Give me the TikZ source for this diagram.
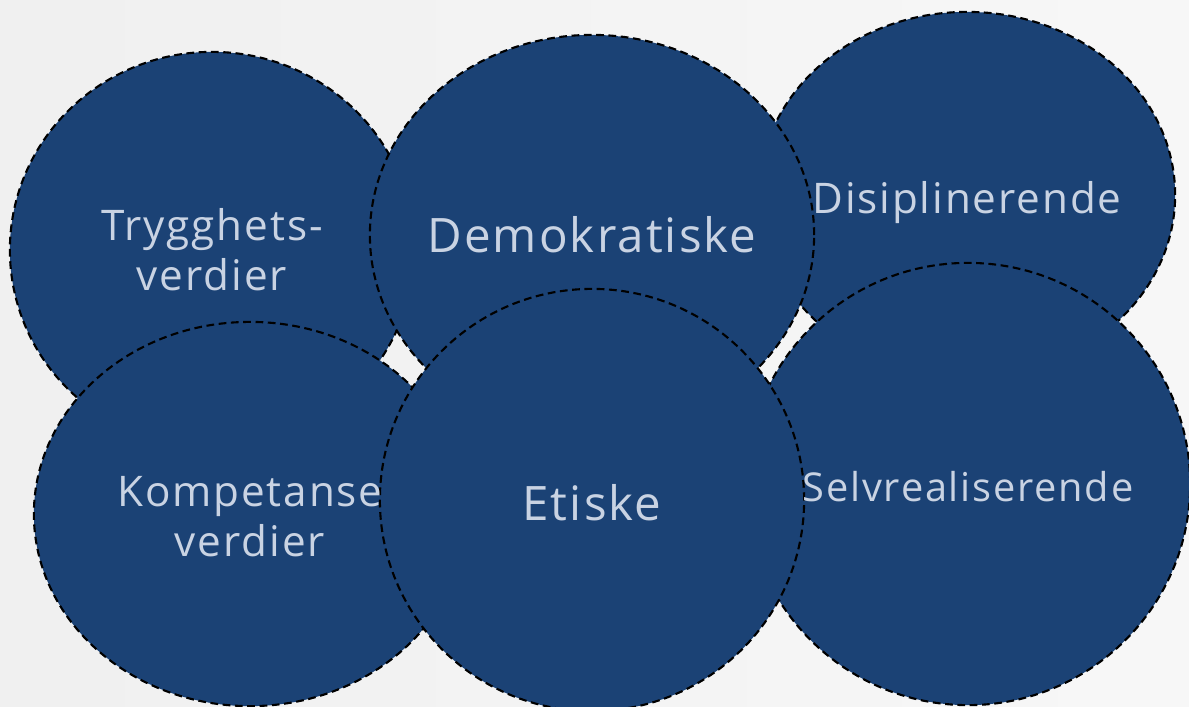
\documentclass[tikz,border=0pt]{standalone}
\usepackage{fontspec}
\setmainfont[LetterSpace=4.5]{Open Sans}
\usetikzlibrary{shapes.geometric}
\definecolor{bubbleblue}{RGB}{27,66,117}
\definecolor{bubbletext}{RGB}{201,211,227}
\tikzstyle{bubble}=[ellipse,fill=bubbleblue,draw=black,line width=0.6pt,dash pattern=on 2.2pt off 1.3pt,inner sep=0pt]
\tikzstyle{word}=[text=bubbletext,align=center,inner sep=0pt]
\tikzstyle{bigword}=[font=\fontsize{13.5}{16}\selectfont]
\tikzstyle{smallword}=[font=\fontsize{12}{14.2}\selectfont]
\tikzstyle{tinyword}=[font=\fontsize{11.3}{13.5}\selectfont]

\begin{document}
\begin{tikzpicture}[x=0.01cm,y=-0.01cm]
    % soft grey backdrop
    \shade[left color=black!6, middle color=white, right color=black!3] (0,0) rectangle (1189,706);
    \useasboundingbox (0,0) rectangle (1189,706);
    % the bubbles, back to front
    \foreach \name/\x/\y/\w/\h in {disip/967/195/4.16cm/3.66cm, trygg/212/250/4.04cm/3.96cm,
        demo/592/235/4.44cm/4.0cm, selv/968/484/4.44cm/4.42cm, komp/250/514/4.32cm/3.84cm,
        etisk/592/500/4.24cm/4.22cm}
        \node[bubble, minimum width=\w, minimum height=\h] (\name) at (\x,\y) {};
    % and their words
    \foreach \name/\word/\size/\dy in {trygg/{Trygghets-\\verdier}/smallword/0cm, demo/Demokratiske/bigword/0cm,
        disip/Disiplinerende/smallword/-0.08cm, komp/{Kompetanse\\verdier}/smallword/-0.03cm,
        etisk/Etiske/bigword/-0.03cm, selv/Selvrealiserende/tinyword/-0.03cm}
        \node[word, \size, yshift=\dy] (\name-word) at (\name) {\word};
\end{tikzpicture}
\end{document}
